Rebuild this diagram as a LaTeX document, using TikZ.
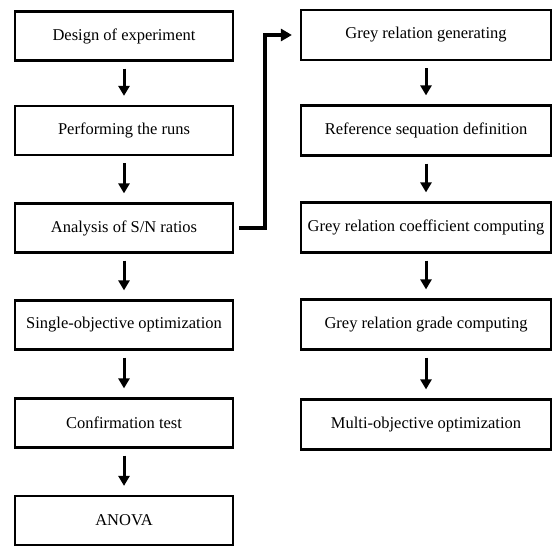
\documentclass[tikz,border=0pt]{standalone}
\usepackage{fontspec}
\setmainfont{Liberation Serif}
\usetikzlibrary{arrows.meta}
\begin{document}
\begin{tikzpicture}[x=1pt,y=-1pt,
  lbox/.style={draw,line width=2.2pt,minimum width=218pt,minimum height=49pt,inner sep=0pt,font=\fontsize{16.5pt}{19pt}\selectfont},
  rbox/.style={draw,line width=2.2pt,minimum width=250pt,minimum height=50pt,inner sep=0pt,font=\fontsize{16.5pt}{19pt}\selectfont},
  flow/.style={line width=3pt,-{Triangle[width=11pt,length=10pt]}},
  link/.style={line width=3.5pt,-{Triangle[width=12pt,length=11pt]}}]
\useasboundingbox (0,0) rectangle (554,547);
\node[lbox] (l1) at (124,36) {Design of experiment};
\node[lbox] (l2) at (124,130.5) {Performing the runs};
\node[lbox] (l3) at (124,228) {Analysis of S/N ratios};
\node[lbox] (l4) at (124,325) {Single-objective optimization};
\node[lbox] (l5) at (124,423) {Confirmation test};
\node[lbox] (l6) at (124,520.5) {ANOVA};
\node[rbox] (r1) at (426,35) {Grey relation generating};
\node[rbox] (r2) at (426,130.5) {Reference sequation definition};
\node[rbox] (r3) at (426,227.5) {Grey relation coefficient computing};
\node[rbox] (r4) at (426,324.5) {Grey relation grade computing};
\node[rbox] (r5) at (426,424.5) {Multi-objective optimization};
\foreach \a/\b in {l1/l2,l2/l3,l3/l4,l4/l5,l5/l6,r1/r2,r2/r3,r3/r4,r4/r5}{
  \draw[flow] ([yshift=-7pt]\a.south) -- ([yshift=9pt]\b.north);
}
\draw[link] ([xshift=5pt]l3.east) -| (265,35) -- ([xshift=-8pt]r1.west);
\end{tikzpicture}
\end{document}
